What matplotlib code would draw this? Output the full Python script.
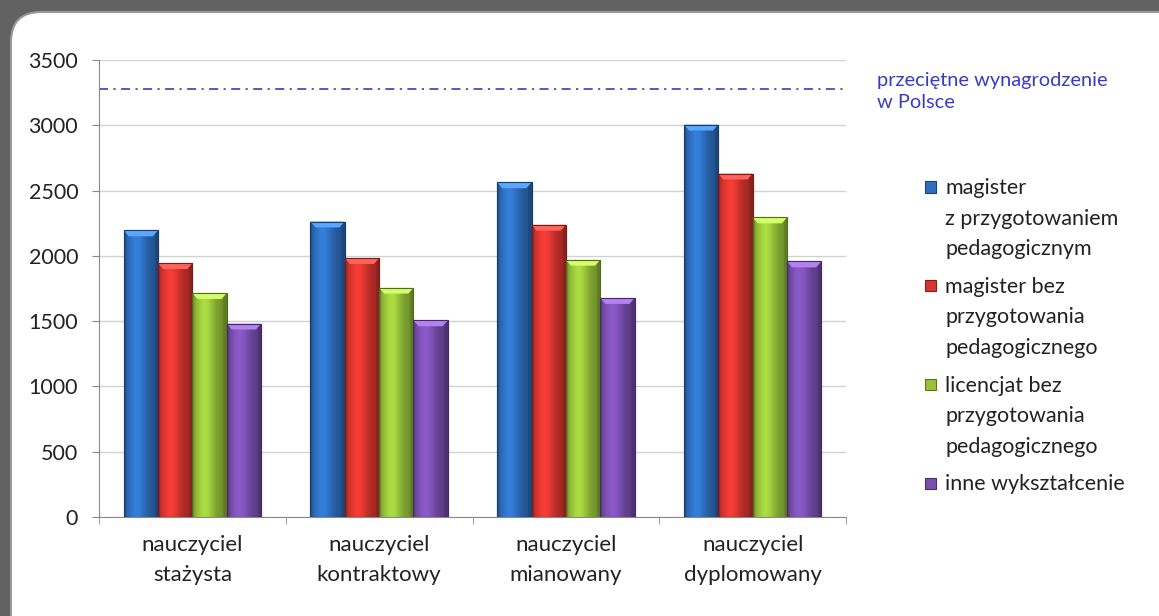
import numpy as np
import matplotlib
matplotlib.use("Agg")
import matplotlib.pyplot as plt
from matplotlib.patches import FancyBboxPatch, Rectangle
from matplotlib.colors import to_rgb

plt.rcParams['font.family'] = ['Lato', 'DejaVu Sans']

categories = ["nauczyciel\nstażysta", "nauczyciel\nkontraktowy",
              "nauczyciel\nmianowany", "nauczyciel\ndyplomowany"]
series_names = ["magister\nz przygotowaniem\npedagogicznym",
                "magister bez\nprzygotowania\npedagogicznego",
                "licencjat bez\nprzygotowania\npedagogicznego",
                "inne wykształcenie"]
magister_z = [2195, 2263, 2563, 3005]
magister_bez = [1944, 1983, 2238, 2630]
licencjat_bez = [1715, 1756, 1970, 2294]
inne = [1481, 1506, 1677, 1957]
series_values = [magister_z, magister_bez, licencjat_bez, inne]
average_salary = 3280
average_label = "przeciętne wynagrodzenie\nw Polsce"
y_ticks = [0, 500, 1000, 1500, 2000, 2500, 3000, 3500]

colors = ["#2e6fc0", "#d8352f", "#97c23a", "#7b4fb0"]

W, H = 1159, 616
fig = plt.figure(figsize=(W / 100, H / 100), dpi=100)
fig.patch.set_facecolor("#626262")

panel = FancyBboxPatch((11 / W, -0.1), 1.2, 1.1 - 12 / H,
                       boxstyle="round,pad=0,rounding_size=0.026",
                       transform=fig.transFigure, facecolor="white",
                       edgecolor="#9a9a9a", linewidth=1.5, zorder=-10,
                       mutation_aspect=W / H)
fig.patches.append(panel)

ax = fig.add_axes([99 / W, 1 - 517 / H, (846 - 99) / W, (517 - 60) / H])
ax.set_facecolor("none")
ax.set_zorder(1)

n = len(series_values)
width = 0.184
x = np.arange(len(categories))


def shade_profile(npts=64):
    t = np.linspace(0, 1, npts)
    prof = 0.74 + 0.40 * np.exp(-((t - 0.36) / 0.3) ** 2)
    prof[t > 0.9] *= 0.85
    prof[t < 0.06] *= 0.85
    return prof


prof = shade_profile()
for i, (vals, col) in enumerate(zip(series_values, colors)):
    offs = (i - (n - 1) / 2) * width
    bars = ax.bar(x + offs, vals, width, color=col, edgecolor=col, linewidth=0.8, zorder=3)
    base = np.array(to_rgb(col))
    img = np.clip(base[None, :] * prof[:, None], 0, 1)[None, :, :]
    for b in bars:
        bx, bw, bh = b.get_x(), b.get_width(), b.get_height()
        im = ax.imshow(img, extent=(bx, bx + bw, 0, bh), aspect='auto',
                       zorder=4, interpolation='bicubic')
        im.set_clip_path(b)
        light = np.clip(base * 1.15 + 0.15, 0, 1)
        ax.fill([bx, bx + bw, bx + bw * 0.85, bx + bw * 0.15],
                [bh, bh, bh - 45, bh - 45], color=light, zorder=5, linewidth=0)
        ax.plot([bx, bx + bw, bx + bw, bx, bx], [0, 0, bh, bh, 0],
                color=tuple(base * 0.55), linewidth=0.8, zorder=6)

ax.axhline(average_salary, color="#4a4ac0", linewidth=1.3,
           linestyle=(0, (5, 3, 1.2, 3)), zorder=2)

ax.set_xlim(-0.5, len(categories) - 0.5)
ax.set_ylim(0, 3500)
ax.set_yticks(y_ticks)
ax.set_yticklabels([str(v) for v in y_ticks], fontsize=15.5, color="#222222")
ax.yaxis.grid(True, color="#d2d2d2", linewidth=1.0, zorder=1)
ax.set_axisbelow(True)

ax.set_xticks(x)
ax.set_xticklabels(categories, fontsize=16, color="#222222", linespacing=1.65)
ax.set_xticks(np.arange(-0.5, len(categories)), minor=True)
ax.tick_params(axis='x', which='major', length=0, pad=13)
ax.tick_params(axis='x', which='minor', length=5, color="#888888")
ax.tick_params(axis='y', length=5, color="#888888", pad=10)

for s in ["top", "right"]:
    ax.spines[s].set_visible(False)
ax.spines["left"].set_color("#8a8a8a")
ax.spines["bottom"].set_color("#8a8a8a")

fig.text(877 / W, 1 - 72 / H, average_label, color="#3a3ac8", fontsize=14.4,
         va='top', ha='left', linespacing=1.37)

# legend (manual, marker aligned with first text line)
leg_x_marker = 925
leg_x_text = 945
leg_top = 187
entry_step = 98.7
for i, (name, col) in enumerate(zip(series_names, colors)):
    yc = leg_top + i * entry_step
    base = np.array(to_rgb(col))
    fig.patches.append(Rectangle((leg_x_marker / W, 1 - (yc + 5.5) / H), 11 / W, 11 / H,
                                 transform=fig.transFigure, facecolor=col,
                                 edgecolor=tuple(base * 0.6), linewidth=0.8))
    fig.text(leg_x_text / W, 1 - (yc - 8.6) / H, name, fontsize=15.5, color="#222222",
             va='top', ha='left', linespacing=1.65)

fig.savefig("out.png", dpi=100, facecolor=fig.get_facecolor())
